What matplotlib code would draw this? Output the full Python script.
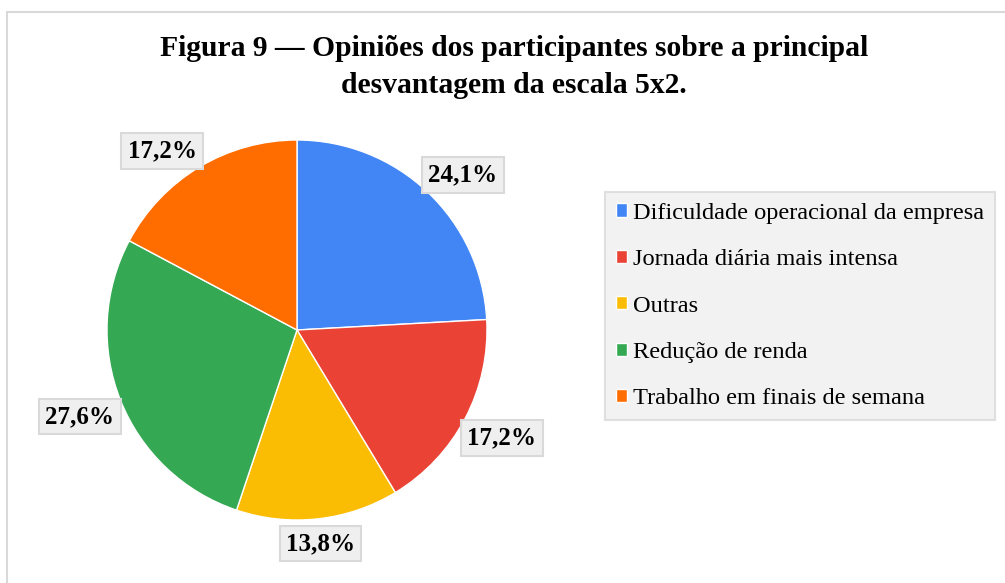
import numpy as np
import matplotlib.pyplot as plt
from matplotlib.patches import Rectangle

categories = ['Dificuldade operacional da empresa', 'Jornada diária mais intensa',
              'Outras', 'Redução de renda', 'Trabalho em finais de semana']
values = [24.1, 17.2, 13.8, 27.6, 17.2]
colors = ['#4285F4', '#EA4335', '#FBBC04', '#34A853', '#FF6D01']
title = 'Figura 9 — Opiniões dos participantes sobre a principal\ndesvantagem da escala 5x2.'

# where each percent label sits: distance in pie radii, angle nudge in degrees
label_dist = [1.195, 1.22, 1.13, 1.23, 1.18]
label_turn = [-3.5, 0, 0, 0, 6]

plt.rcParams['font.family'] = ['Liberation Serif', 'DejaVu Serif']

W, H = 1005, 583
fig = plt.figure(figsize=(W / 100, H / 100), dpi=100)

# light border of the chart area
fig.patches.append(Rectangle((7 / W, -0.1), 1.2, 1 - 12 / H + 0.1, transform=fig.transFigure,
                             facecolor='none', edgecolor='#d9d9d9', linewidth=1.5, zorder=-1))

fig.text(514 / W, 1 - 67 / H, title, ha='center', va='center', fontsize=21.3,
         fontweight='bold', linespacing=1.5)

R = 190
cx, cy = 297, H - 330
half = 1.3 * R
ax = fig.add_axes([(cx - half) / W, (cy - half) / H, 2 * half / W, 2 * half / H])
ax.set_zorder(2)

wedges, _, autotexts = ax.pie(values, colors=colors, startangle=90, counterclock=False,
                              autopct=lambda p: f'{p:.1f}%'.replace('.', ','),
                              pctdistance=1.2, radius=1,
                              wedgeprops=dict(edgecolor='white', linewidth=1),
                              textprops=dict(fontsize=18, fontweight='bold'))
for w, t, d, turn in zip(wedges, autotexts, label_dist, label_turn):
    ang = np.deg2rad((w.theta1 + w.theta2) / 2 + turn)
    t.set_position((d * np.cos(ang), d * np.sin(ang)))
    t.set_bbox(dict(boxstyle='square,pad=0.25', facecolor='#efefef', edgecolor='#d9d9d9', linewidth=1.5))

ax.set_xlim(-1.3, 1.3)
ax.set_ylim(-1.3, 1.3)
ax.set_aspect('equal')
ax.axis('off')

leg = fig.legend(wedges, categories, loc='center left', bbox_to_anchor=(605 / W, 1 - 306 / H),
                 fontsize=17.6, frameon=True, fancybox=False, handlelength=0.45, handleheight=0.45,
                 handletextpad=0.25, labelspacing=1.04, borderpad=0.45, borderaxespad=0)
leg.get_frame().set_facecolor('#efefef')
leg.get_frame().set_edgecolor('#d9d9d9')
leg.get_frame().set_linewidth(1.5)

fig.savefig('out.png', dpi=100)
